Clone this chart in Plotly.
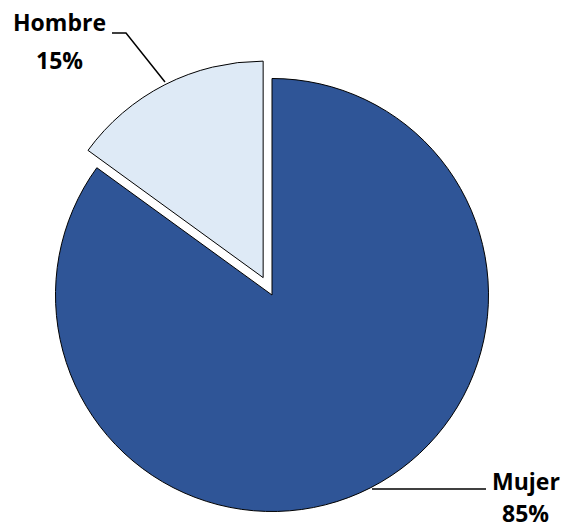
import plotly.graph_objects as go

categories = ["Mujer", "Hombre"]
values = [85, 15]
colors = ["#2F5597", "#DEEAF6"]
pulls = [0, 0.09]

W, H = 566, 531

def px(x):
    return x / W

def py(y):
    return 1 - y / H

fig = go.Figure(go.Pie(
    labels=categories,
    values=values,
    sort=False,
    direction="clockwise",
    rotation=0,
    pull=pulls,
    marker=dict(colors=colors, line=dict(color="black", width=1)),
    textinfo="none",
    hoverinfo="label+percent",
    showlegend=False,
    domain=dict(x=[px(34), px(510)], y=[py(531), py(59)]),
))

font = dict(family="Open Sans, sans-serif", size=23, color="black")
anns = [
    ("<b>Hombre</b>", 59, 22),
    ("<b>15%</b>", 59, 60),
    ("<b>Mujer</b>", 526, 481),
    ("<b>85%</b>", 525, 513),
]
fig.update_layout(
    width=W, height=H,
    margin=dict(l=0, r=0, t=0, b=0),
    paper_bgcolor="white", plot_bgcolor="white",
    annotations=[dict(text=t, x=px(x), y=py(y), xref="paper", yref="paper",
                      showarrow=False, font=font, xanchor="center", yanchor="middle")
                 for t, x, y in anns],
    shapes=[
        dict(type="path", xref="paper", yref="paper",
             path=f"M {px(112)},{py(33)} L {px(126)},{py(33)} L {px(165)},{py(82)}",
             line=dict(color="black", width=1.5)),
        dict(type="line", xref="paper", yref="paper",
             x0=px(372), y0=py(489), x1=px(486), y1=py(489),
             line=dict(color="black", width=1.5)),
    ],
)

fig.write_html(
    "out.html",
    config={"displayModeBar": False},
    post_script="document.body.style.margin='0';document.body.style.overflow='hidden';",
)
